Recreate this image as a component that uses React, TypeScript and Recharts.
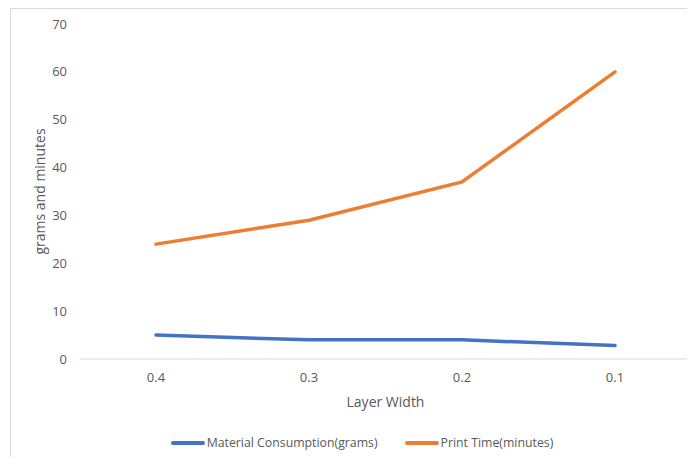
import { LineChart, Line, XAxis, YAxis, Legend } from 'recharts';

const layerWidths = ['0.4', '0.3', '0.2', '0.1'];
const materialGrams = [5, 4, 4, 2.8];
const printMinutes = [24, 29, 37, 60];
const yTicks = [0, 10, 20, 30, 40, 50, 60, 70];

const data = layerWidths.map((w, i) => ({
  width: w,
  material: materialGrams[i],
  print: printMinutes[i],
}));

const font = '"Open Sans", "Noto Sans", sans-serif';

const renderLegend = (props: any) => {
  const { payload } = props;
  return (
    <div style={{ display: 'flex', justifyContent: 'center', gap: 27, paddingTop: 15, paddingLeft: 22, fontFamily: font, fontSize: 12.3, color: '#595959' }}>
      {payload.map((p: any) => (
        <div key={p.value} style={{ display: 'flex', alignItems: 'center' }}>
          <svg width={34} height={10} style={{ marginRight: 2 }}>
            <line x1={2} y1={5} x2={32} y2={5} stroke={p.color} strokeWidth={4} strokeLinecap="round" />
          </svg>
          <span>{p.value}</span>
        </div>
      ))}
    </div>
  );
};

const App = () => {
  return (
    <div style={{ marginLeft: 2, width: 700, height: 460, border: '1px solid #d9d9d9', background: '#fff' }}>
      <LineChart width={690} height={450} data={data} margin={{ top: 15, right: 10, left: 0, bottom: 10 }}>
        <XAxis
          dataKey="width"
          height={60}
          padding={{ left: 76, right: 76 }}
          tickLine={false}
          tickMargin={8}
          axisLine={{ stroke: '#d9d9d9' }}
          tick={{ fill: '#595959', fontSize: 13, fontFamily: font }}
          label={{ value: 'Layer Width', position: 'insideBottom', offset: 12, fill: '#595959', fontSize: 14, fontFamily: font }}
        />
        <YAxis
          width={69}
          domain={[0, 70]}
          ticks={yTicks}
          axisLine={false}
          tickLine={false}
          tickMargin={7}
          tick={{ fill: '#595959', fontSize: 13, fontFamily: font }}
          label={{ value: 'grams and minutes', angle: -90, position: 'insideLeft', offset: 29, fill: '#595959', fontSize: 14, fontFamily: font, style: { textAnchor: 'middle' } }}
        />
        <Legend verticalAlign="bottom" height={30} content={renderLegend} />
        <Line
          type="linear"
          dataKey="material"
          name="Material Consumption(grams)"
          stroke="#4472C4"
          strokeWidth={3.5}
          strokeLinecap="round"
          dot={false}
          isAnimationActive={false}
        />
        <Line
          type="linear"
          dataKey="print"
          name="Print Time(minutes)"
          stroke="#ED7D31"
          strokeWidth={3.5}
          strokeLinecap="round"
          dot={false}
          isAnimationActive={false}
        />
      </LineChart>
    </div>
  );
};

export default App;
